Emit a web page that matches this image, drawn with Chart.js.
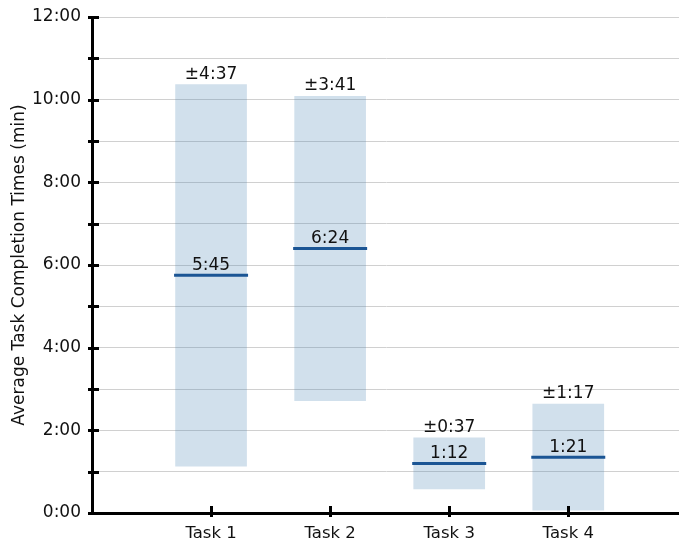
<!DOCTYPE html>
<html>
<head>
<meta charset="utf-8">
<script src="https://cdn.jsdelivr.net/npm/chart.js@4/dist/chart.umd.min.js"></script>
<style>
  html, body { margin: 0; padding: 0; background: #fff; overflow: hidden; }
  canvas { display: block; }
</style>
</head>
<body>
<canvas id="c" width="679" height="544"></canvas>
<script>
// Task names and their positions on the horizontal axis
const tasks = ['Task 1', 'Task 2', 'Task 3', 'Task 4'];
const taskPositions = [1, 2, 3, 4];
// Mean completion time and its spread, in seconds
const meanSeconds = [345, 384, 72, 81];
const spreadSeconds = [277, 221, 37, 77];
// Vertical axis range and step, in seconds
const yMin = 0;
const yMax = 720;
const yStep = 60;

const FONT = '"DejaVu Sans", Verdana, sans-serif';

function fmt(sec) {
  const m = Math.floor(sec / 60);
  const s = Math.round(sec - m * 60);
  return m + ':' + String(s).padStart(2, '0');
}

const rangeData = taskPositions.map((x, i) => ({
  x: x,
  y: [meanSeconds[i] - spreadSeconds[i], meanSeconds[i] + spreadSeconds[i]]
}));
const meanData = taskPositions.map((x, i) => ({ x: x, y: meanSeconds[i] }));

// Ticks that cross the axis lines, and value labels for each task
const decorations = {
  id: 'decorations',
  afterDatasetsDraw(chart) {
    const ctx = chart.ctx;
    const xs = chart.scales.x, ys = chart.scales.y;
    ctx.save();
    ctx.fillStyle = '#111';
    ctx.font = '17px ' + FONT;
    ctx.textAlign = 'center';
    ctx.textBaseline = 'alphabetic';
    taskPositions.forEach((p, i) => {
      const px = xs.getPixelForValue(p);
      const top = ys.getPixelForValue(meanSeconds[i] + spreadSeconds[i]);
      const mid = ys.getPixelForValue(meanSeconds[i]);
      ctx.fillText('\u00b1' + fmt(spreadSeconds[i]), px, top - 6);
      ctx.fillText(fmt(meanSeconds[i]), px, mid - 5);
    });
    ctx.restore();
  },
  afterDraw(chart) {
    const ctx = chart.ctx;
    const xs = chart.scales.x, ys = chart.scales.y;
    const area = chart.chartArea;
    ctx.save();
    ctx.strokeStyle = '#000';
    ctx.lineWidth = 3;
    for (let v = yMin; v <= yMax; v += yStep) {
      const py = Math.round(ys.getPixelForValue(v)) + 0.5;
      ctx.beginPath();
      ctx.moveTo(area.left - 4, py);
      ctx.lineTo(area.left + 7, py);
      ctx.stroke();
    }
    taskPositions.forEach(p => {
      const px = Math.round(xs.getPixelForValue(p)) + 0.5;
      ctx.beginPath();
      ctx.moveTo(px, area.bottom - 7);
      ctx.lineTo(px, area.bottom + 4);
      ctx.stroke();
    });
    ctx.restore();
  }
};

new Chart(document.getElementById('c'), {
  type: 'bar',
  data: {
    datasets: [
      {
        type: 'scatter',
        data: meanData,
        pointStyle: 'line',
        pointRadius: 37,
        pointHoverRadius: 37,
        borderWidth: 3,
        borderColor: '#1b5594',
        clip: false,
        order: 0
      },
      {
        type: 'bar',
        data: rangeData,
        backgroundColor: 'rgba(70,130,180,0.25)',
        borderWidth: 0,
        barThickness: 71,
        grouped: false,
        order: 1
      }
    ]
  },
  options: {
    responsive: false,
    animation: false,
    events: [],
    layout: { autoPadding: false, padding: { top: 17, right: 0, left: 0, bottom: 0 } },
    plugins: { legend: { display: false }, tooltip: { enabled: false } },
    scales: {
      x: {
        type: 'linear',
        offset: false,
        min: 0,
        max: 4.93,
        grid: { display: false },
        border: { display: true, color: '#000', width: 3 },
        ticks: {
          stepSize: 1,
          autoSkip: false,
          maxRotation: 0,
          padding: 3,
          color: '#111',
          font: { family: FONT, size: 16.5 },
          callback: v => (v >= 1 && v <= tasks.length && Number.isInteger(v)) ? tasks[v - 1] : ''
        },
        afterFit: s => { s.height = 31; s.paddingLeft = 0; s.paddingRight = 0; }
      },
      y: {
        min: yMin,
        max: yMax,
        grid: { color: '#d0d0d0', lineWidth: 1, drawTicks: false },
        border: { display: true, color: '#000', width: 3 },
        ticks: {
          stepSize: yStep,
          autoSkip: false,
          padding: 11,
          color: '#111',
          font: { family: FONT, size: 17 },
          callback: v => (v % 120 === 0) ? fmt(v) : ''
        },
        title: {
          display: true,
          text: 'Average Task Completion Times (min)',
          color: '#111',
          font: { family: FONT, size: 17 },
          padding: { top: 9, bottom: 0 }
        },
        afterFit: s => { s.width = 92; s.paddingTop = 0; s.paddingBottom = 0; }
      }
    }
  },
  plugins: [decorations]
});
</script>
</body>
</html>
